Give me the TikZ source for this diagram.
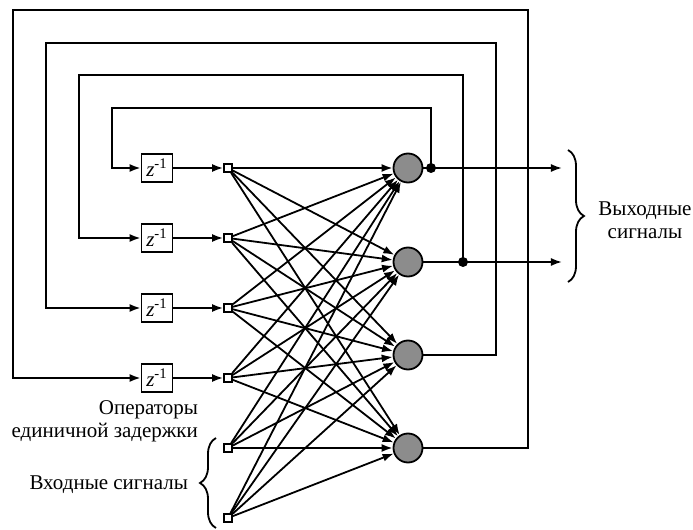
\documentclass[tikz,border=0pt]{standalone}
\usepackage{fontspec}
\setmainfont{Liberation Serif}
\usetikzlibrary{arrows.meta, decorations.pathreplacing}

\begin{document}
\begin{tikzpicture}[
    x=0.5pt, y=-0.5pt,
    font=\fontsize{10.5}{11.5}\selectfont,
    arrow/.style={-{Latex[length=5.5pt,width=4pt]}, line width=0.9pt},
    neuron/.style={draw, line width=0.9pt, circle, fill=black!45, minimum size=14.5pt, inner sep=0pt},
    delaybox/.style={draw, line width=0.9pt, minimum width=15.5pt, minimum height=14pt, inner sep=0pt},
    inpt/.style={draw, line width=0.9pt, fill=white, minimum size=4pt, inner sep=0pt},
    dot/.style={circle, fill=black, minimum size=5pt, inner sep=0pt},
    brc/.style={decorate, decoration={brace, amplitude=8pt}, line width=0.9pt}
  ]
    \useasboundingbox (0,0) rectangle (693,530);

    % Neurons
    \node[neuron] (n1) at (408,168) {};
    \node[neuron] (n2) at (408,262) {};
    \node[neuron] (n3) at (408,355) {};
    \node[neuron] (n4) at (408,448) {};

    % Input nodes
    \node[inpt] (s1) at (228,168) {};
    \node[inpt] (s2) at (228,238) {};
    \node[inpt] (s3) at (228,308) {};
    \node[inpt] (s4) at (228,378) {};
    \node[inpt] (s5) at (228,448) {};
    \node[inpt] (s6) at (228,518) {};

    % Unit delays
    \node[delaybox] (d1) at (157,168) {\textit{z}\textsuperscript{-1}};
    \node[delaybox] (d2) at (157,238) {\textit{z}\textsuperscript{-1}};
    \node[delaybox] (d3) at (157,308) {\textit{z}\textsuperscript{-1}};
    \node[delaybox] (d4) at (157,378) {\textit{z}\textsuperscript{-1}};

    % Arrows
    \draw[arrow] (d1) -- (s1);
    \draw[arrow] (d2) -- (s2);
    \draw[arrow] (d3) -- (s3);
    \draw[arrow] (d4) -- (s4);
    \foreach \i in {1,...,6}
      \foreach \j in {1,...,4}
        \draw[arrow] (s\i) -- (n\j);

    % Outputs and feedback
    \coordinate (j1) at (431,168);
    \coordinate (j2) at (463,262);
    \coordinate (o1) at (562,168);
    \coordinate (o2) at (562,262);
    \draw[arrow] (n1) -- (o1);
    \draw[arrow] (n2) -- (o2);
    \draw[arrow] (j1) |- (112,108) |- (d1.west);
    \draw[arrow] (j2) |- (79,75) |- (d2.west);
    \draw[arrow] (n3.east) -- (496,355) |- (46,43) |- (d3.west);
    \draw[arrow] (n4.east) -- (528,448) |- (13,10) |- (d4.west);
    \node[dot] at (j1) {};
    \node[dot] at (j2) {};

    % Labels
    \node[anchor=east, align=right] (oplbl) at (205,421) {Операторы\\единичной задержки};
    \node[anchor=east] (inlbl) at (195,485) {Входные сигналы};
    \node[align=center] (outlbl) at (645,220) {Выходные\\сигналы};
    \draw[brc] (216,528) -- (216,438);
    \draw[brc] (568,150) -- (568,282);
  \end{tikzpicture}
\end{document}
